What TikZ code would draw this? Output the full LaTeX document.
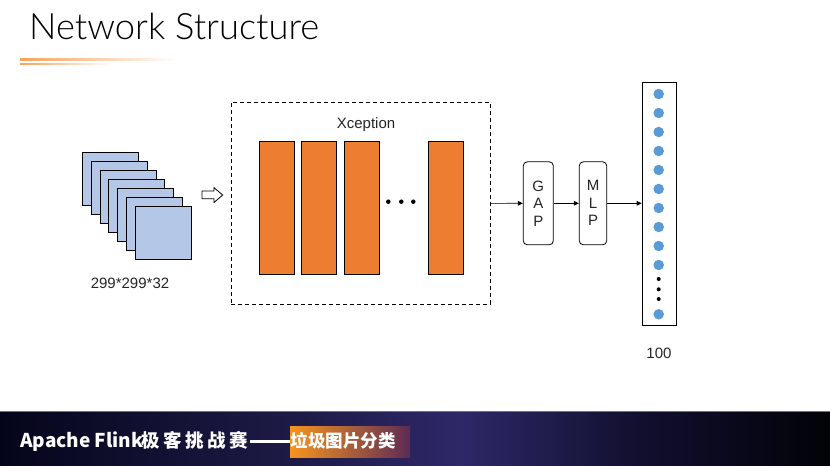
\documentclass[tikz,border=0pt]{standalone}
\usepackage{fontspec}
\setmainfont{Liberation Sans}
\newfontfamily\cjk{Noto Sans CJK SC}
\newfontfamily\thinfont{Lato Light}
\usetikzlibrary{arrows.meta,shadings}
\definecolor{barorange}{HTML}{ED7D31}
\definecolor{sqblue}{HTML}{B4C7E7}
\definecolor{dotblue}{HTML}{5B9BD5}
\definecolor{lineor}{HTML}{F8A35A}
\definecolor{bnA}{HTML}{05051A}
\definecolor{bnB}{HTML}{1D1A46}
\definecolor{bnC}{HTML}{2E2868}
\definecolor{bnD}{HTML}{110F2E}
\definecolor{bnE}{HTML}{020208}
\definecolor{orA}{HTML}{F7941D}
\definecolor{orB}{HTML}{C0502A}
\definecolor{orC}{HTML}{5E2A55}
\tikzset{
  lbl/.style={font=\fontsize{15bp}{17.5bp}\selectfont, inner sep=0, text=black!85},
  sq/.style={draw, line width=0.8bp, fill=sqblue, minimum width=56bp, minimum height=53bp, anchor=north west, inner sep=0},
  bar/.style={draw, line width=0.8bp, fill=barorange, minimum width=35bp, minimum height=133bp, inner sep=0},
  blk/.style={draw, line width=0.8bp, rounded corners=4bp, align=center, minimum height=83bp, inner sep=0, text=black!85, font=\fontsize{15bp}{17.5bp}\selectfont},
  arr/.style={line width=0.7bp, -{Triangle[length=5bp,width=4.5bp]}},
  bd/.style={circle, fill=dotblue, minimum size=10.5bp, inner sep=0},
  sd/.style={circle, fill=black, minimum size=4.5bp, inner sep=0},
  btxt/.style={anchor=base west, inner sep=0, text=white},
}
\begin{document}
\begin{tikzpicture}[x=1bp,y=-1bp]
\useasboundingbox (0,0) rectangle (830,466);
\fill[white] (0,0) rectangle (830,466);
% title
\node[anchor=base west, inner sep=0, text=black, font=\thinfont\fontsize{36.3bp}{40bp}\selectfont] (title) at (29,40) {Network Structure};
\shade[left color=lineor, right color=white] (20,58.2) rectangle (178,60.2);
\shade[left color=lineor, right color=white] (20,63.5) rectangle (112,65);
% input stack
\foreach \i in {0,...,6}{
  \node[sq] (s\i) at ({81.7+8.9*\i},{151.7+9.05*\i}) {};
}
\node[lbl] (inlbl) at (130,283) {299*299*32};
% hollow arrow
\draw[line width=0.8bp, fill=white] (202,191) -- (214,191) -- (214,187.7) -- (222.7,195) -- (214,202.5) -- (214,198.7) -- (202,198.7) -- cycle;
% Xception box
\node[draw, line width=0.8bp, dash pattern=on 4bp off 3bp, minimum width=259bp, minimum height=202bp, anchor=north west, inner sep=0] (xbox) at (231,102) {};
\node[lbl] (xlbl) at (366,125) {Xception};
\node[bar] (b1) at (276.5,207.5) {};
\node[bar] (b2) at (318.5,207.5) {};
\node[bar] (b3) at (361.5,207.5) {};
\node[bar] (b4) at (445.5,207.5) {};
\node[sd] (e1) at (388.3,201.7) {};
\node[sd] (e2) at (401.3,201.7) {};
\node[sd] (e3) at (413.3,201.7) {};
% GAP / MLP
\node[blk, minimum width=30bp] (gap) at (538.3,203.3) {G\\A\\P};
\node[blk, minimum width=27.4bp] (mlp) at (593,203.3) {M\\L\\P};
% output column
\node[draw, line width=0.8bp, minimum width=34bp, minimum height=242.7bp, anchor=north west, inner sep=0] (col) at (641.7,82.3) {};
\foreach \i in {0,...,9}{
  \node[bd] (p\i) at ({658.7},{94+19*\i}) {};
}
\node[sd, minimum size=4bp] (q1) at (658.7,279) {};
\node[sd, minimum size=4bp] (q2) at (658.7,289.3) {};
\node[sd, minimum size=4bp] (q3) at (658.7,299) {};
\node[bd] (p10) at (658.7,314.3) {};
\node[lbl] (outlbl) at (659,353) {100};
% connectors
\draw[arr] (xbox.east) -- (gap.west);
\draw[arr] (gap.east) -- (mlp.west);
\draw[arr] (mlp.east) -- (col.west |- mlp.east);
% banner
\shade[left color=bnA, right color=bnB] (0,411.5) rectangle (290.5,466);
\shade[left color=bnB, right color=bnC] (290,411.5) rectangle (460.5,466);
\shade[left color=bnC, right color=bnD] (460,411.5) rectangle (640.5,466);
\shade[left color=bnD, right color=bnE] (640,411.5) rectangle (830,466);
\draw[black!55, line width=0.8bp] (0,411) -- (830,411);
\shade[left color=orA, middle color=orB, right color=orC] (290,426) rectangle (410,457);
\node[btxt, font=\cjk\bfseries\fontsize{19bp}{22bp}\selectfont] (bt1) at (20,447.5) {Apache Flink};
\node[btxt, font=\cjk\bfseries\fontsize{18.5bp}{22bp}\selectfont] (bt2) at (141.5,447.8) {极\hspace{3.5bp}客\hspace{3.5bp}挑\hspace{3.5bp}战\hspace{3.5bp}赛};
\coordinate (dashL) at (250,441.5);
\coordinate (dashR) at (290,441.5);
\draw[white, line width=2.2bp] (dashL) -- (dashR);
\node[btxt, font=\cjk\bfseries\fontsize{17.5bp}{22bp}\selectfont] (bt3) at (290.5,447.5) {垃圾图片分类};
\end{tikzpicture}
\end{document}
